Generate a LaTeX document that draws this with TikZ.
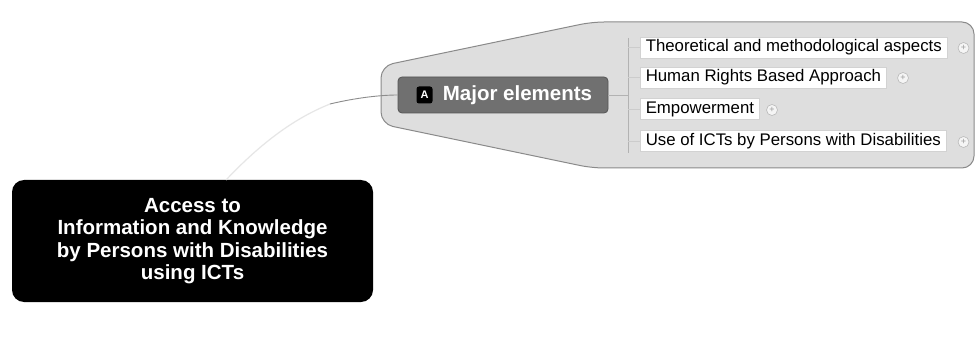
\documentclass[tikz,border=0pt]{standalone}
\usepackage{fontspec}
\setmainfont{Liberation Sans}
\definecolor{bndfill}{HTML}{DEDEDE}
\definecolor{bnddraw}{HTML}{8A8A8A}
\definecolor{majfill}{HTML}{707070}
\definecolor{majdraw}{HTML}{555555}
\definecolor{linkdark}{HTML}{8C8C8C}
\definecolor{linklight}{HTML}{E6E6E6}
\begin{document}
\begin{tikzpicture}[x=1pt,y=-1pt,
  central/.style={fill=black, rounded corners=12pt, minimum width=361pt, minimum height=122pt,
    text=white, align=center, font=\bfseries\fontsize{20.5}{22.3}\selectfont, inner sep=0pt},
  majbox/.style={fill=majfill, draw=majdraw, line width=0.8pt, rounded corners=4pt, minimum width=210pt, minimum height=36pt, inner sep=0pt},
  majtext/.style={text=white, font=\bfseries\fontsize{20.5}{22}\selectfont, inner sep=0pt},
  icon/.style={fill=black, rounded corners=2.5pt, minimum width=16pt, minimum height=17pt, inner sep=0pt,
    text=white, font=\bfseries\fontsize{11}{11}\selectfont},
  child/.style={fill=white, draw=gray!35, line width=0.5pt, anchor=west, minimum height=21pt, inner xsep=5.5pt, inner ysep=0pt,
    font=\fontsize{16.8}{18}\selectfont},
  plus/.style={circle, draw=gray!55, fill=gray!8, line width=0.6pt, minimum size=11pt, inner sep=0pt,
    font=\fontsize{9}{9}\selectfont, text=gray!80},
  bracket/.style={draw=gray!60, line width=0.7pt},
  tick/.style={draw=gray!40, line width=0.6pt}]
\useasboundingbox (0,0) rectangle (976,358);
\fill[white] (0,0) rectangle (976,358);
% boundary
\draw[fill=bndfill, draw=bnddraw, line width=1pt, rounded corners=12pt]
  (381,66) -- (592,22) -- (974,22) -- (974,168) -- (592,168) -- (381,124) -- cycle;
% central topic
\node[central] (root) at (192.5,241) {\raisebox{-2pt}{\parbox{361pt}{\centering Access to\\Information and Knowledge\\by Persons with Disabilities\\using ICTs}}};
% main topic
\node[majbox] (maj) at (503,95) {};
\node[majtext] (majt) at (517.5,95) {Major elements};
\node[icon] (ic) at (424.5,95) {A};
% connector root -> major
\coordinate (rj) at (226,180);
\coordinate (mid) at (330,104);
\draw[linklight, line width=1.2pt] (rj) .. controls (262,142) and (295,118) .. (mid);
\draw[linkdark, line width=0.9pt] (mid) .. controls (355,98) and (380,95) .. (maj.west);
% children
\node[child] (c1) at (640,47.5) {Theoretical and methodological aspects};
\node[child] (c2) at (640,77.5) {Human Rights Based Approach};
\node[child] (c3) at (640,109) {Empowerment};
\node[child] (c4) at (640,141) {Use of ICTs by Persons with Disabilities};
\node[plus] (p1) at (963.5,48) {+};
\node[plus] (p2) at (903,78) {+};
\node[plus] (p3) at (772,110) {+};
\node[plus] (p4) at (963.5,142) {+};
% bracket
\coordinate (bt) at (628,38);
\coordinate (bb) at (628,153);
\coordinate (bm) at (628,95);
\draw[bracket] (bt) -- (bb);
\draw[bracket] (maj.east) -- (bm);
\draw[tick] (628,47.5) -- (c1.west);
\draw[tick] (628,77.5) -- (c2.west);
\draw[tick] (628,109) -- (c3.west);
\draw[tick] (628,141) -- (c4.west);
\end{tikzpicture}
\end{document}
